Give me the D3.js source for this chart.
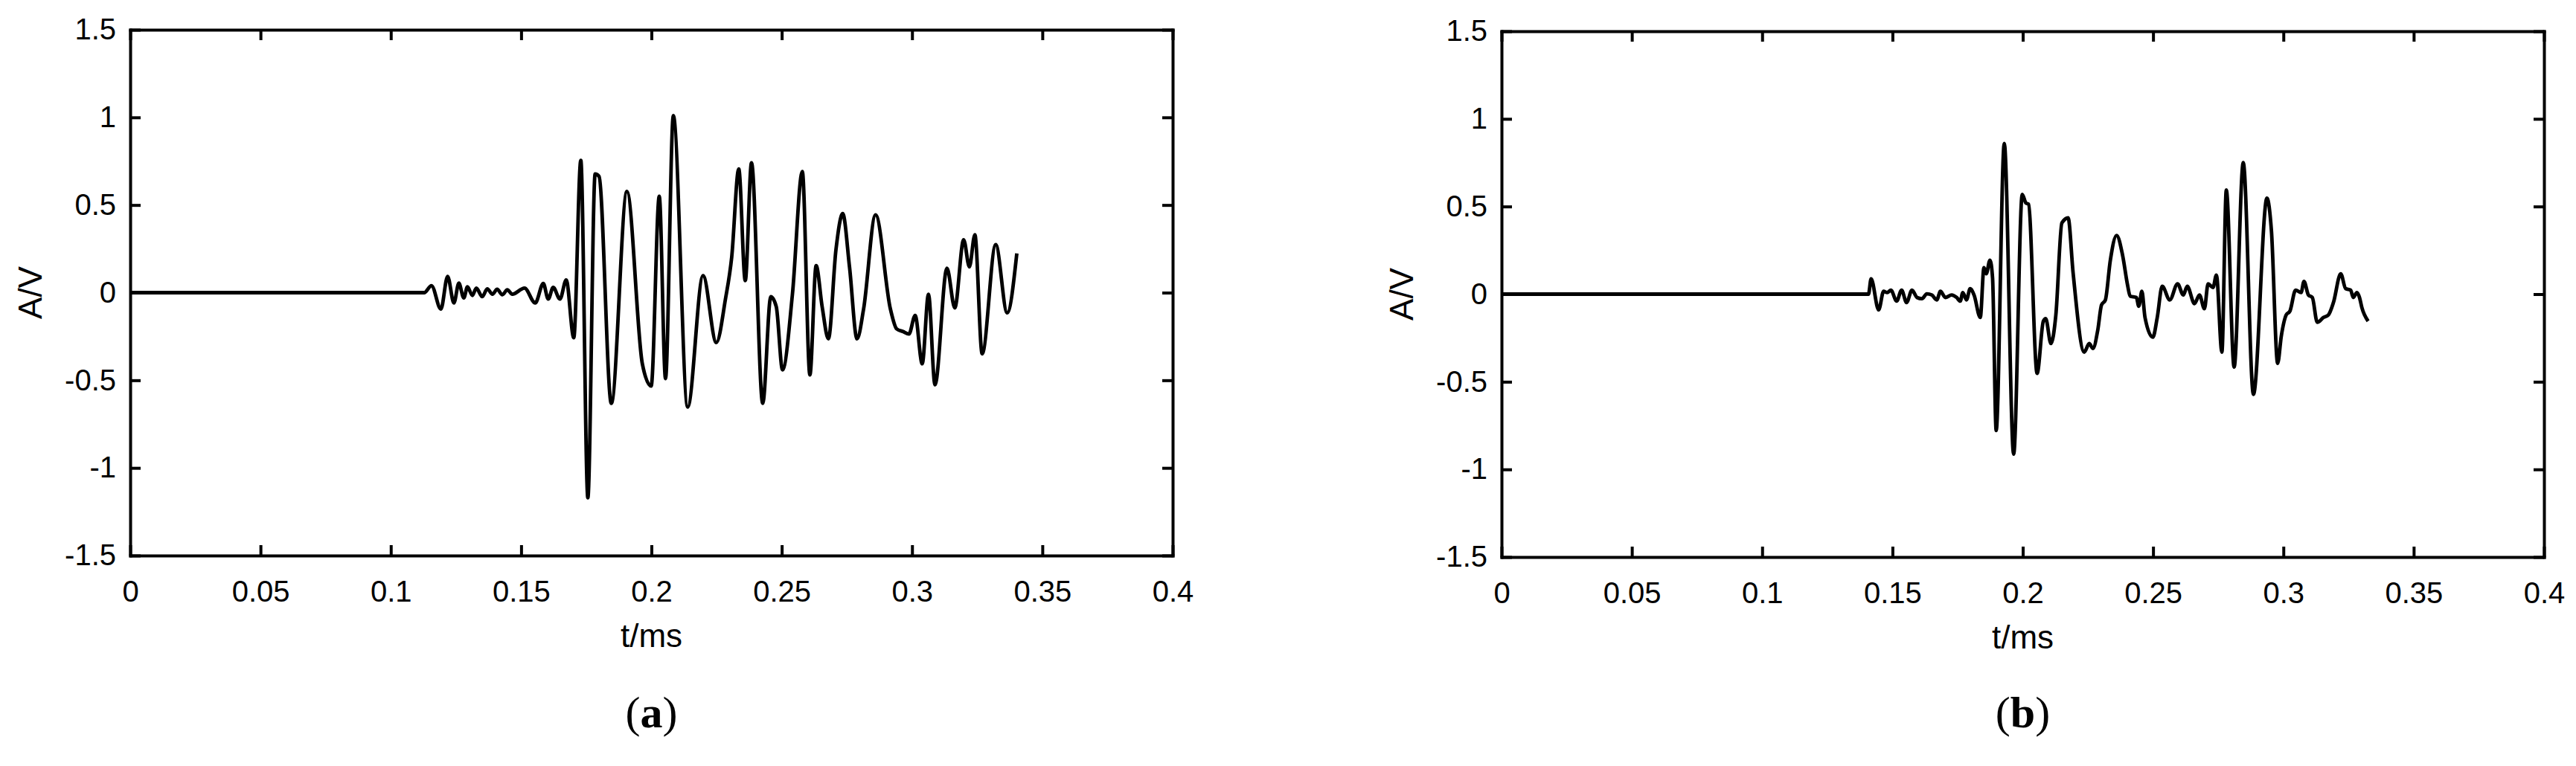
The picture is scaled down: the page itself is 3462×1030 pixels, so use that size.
<!DOCTYPE html>
<html><head><meta charset="utf-8">
<script src="https://cdn.jsdelivr.net/npm/d3@7"></script>
<style>body{margin:0;background:#fff}svg{display:block}</style>
</head><body><svg id="chart" width="3462" height="1030"></svg>
<script>
// ---- data ----
const xTicks = [0, 0.05, 0.1, 0.15, 0.2, 0.25, 0.3, 0.35, 0.4];
const yTicks = [-1.5, -1, -0.5, 0, 0.5, 1, 1.5];
const xLabel = "t/ms";
const yLabel = "A/V";
const panelLabels = ["a", "b"];

const tA = [0, 0.1128, 0.1156, 0.1192, 0.1218, 0.1242, 0.1261, 0.1280, 0.1294, 0.1313, 0.1328, 0.1351, 0.1370, 0.1390, 0.1408, 0.1428, 0.1447, 0.1466,
  0.1513, 0.1554, 0.1585, 0.1604, 0.1623, 0.1649, 0.1673, 0.1702, 0.1729, 0.1756, 0.1784, 0.1799, 0.1846, 0.1906, 0.1965, 0.1999, 0.2030, 0.2054, 0.2084, 0.2139, 0.2198,
  0.2249, 0.2284, 0.2308, 0.2335, 0.2360, 0.2384, 0.2427, 0.2458, 0.2479, 0.2503, 0.2541, 0.2579, 0.2608, 0.2632, 0.2655, 0.2679, 0.2708, 0.2734, 0.2760, 0.2789,
  0.2814, 0.2860, 0.2917, 0.2941, 0.2965, 0.2988, 0.3012, 0.3039, 0.3063, 0.3088, 0.3134, 0.3164, 0.3198, 0.3220, 0.3241, 0.3269, 0.3321, 0.3365, 0.3402];
const vA = [0, 0, 0.04, -0.094, 0.093, -0.059, 0.054, -0.03, 0.033, -0.016, 0.026, -0.023, 0.022, -0.009, 0.019, -0.012, 0.016, -0.009,
  0.026, -0.059, 0.052, -0.037, 0.03, -0.037, 0.073, -0.257, 0.755, -1.17, 0.677, 0.663, -0.632, 0.578, -0.405, -0.533, 0.55, -0.49, 1.01, -0.653, 0.097,
  -0.285, -0.037, 0.203, 0.706, 0.069, 0.741, -0.632, -0.023, -0.08, -0.441, -0.009, 0.691, -0.469, 0.154, -0.08, -0.264, 0.245, 0.451, 0.147, -0.264,
  -0.094, 0.444, -0.094, -0.207, -0.222, -0.236, -0.13, -0.406, -0.009, -0.526, 0.139, -0.087, 0.302, 0.147, 0.33, -0.349, 0.274, -0.115, 0.224];

const tB = [0, 0.1408, 0.1418, 0.1447, 0.1466, 0.1480, 0.1494, 0.1516, 0.1535, 0.1554, 0.1575, 0.1594, 0.1613, 0.1632, 0.1651, 0.1670, 0.1684, 0.1703, 0.1727, 0.1746,
  0.1760, 0.1770, 0.1784, 0.1798, 0.1813, 0.1837, 0.1851, 0.1860, 0.1874, 0.1884, 0.1898, 0.1929, 0.1965, 0.1998, 0.2012, 0.2022, 0.2055, 0.2079, 0.2088, 0.2108,
  0.2127, 0.2150, 0.2174, 0.2193, 0.2236, 0.2255, 0.2269, 0.2288, 0.2302, 0.2317, 0.2336,
  0.2360, 0.2383, 0.2402, 0.2412, 0.2436, 0.2445, 0.2457, 0.2469, 0.2499, 0.2516, 0.2535, 0.2564, 0.2594, 0.2616, 0.2631, 0.2659, 0.2678, 0.2697, 0.2711, 0.2730,
  0.2743, 0.2764, 0.2781, 0.2811, 0.2846, 0.2885, 0.2937, 0.2954, 0.2978, 0.2992, 0.3011, 0.3025, 0.3047, 0.3068, 0.3079, 0.3096, 0.3111, 0.3130, 0.3154, 0.3173,
  0.3192, 0.3220, 0.3239, 0.3258, 0.3268, 0.3282, 0.3292, 0.3301, 0.3325];
const vB = [0, 0, 0.087, -0.09, 0.016, 0.009, 0.023, -0.04, 0.023, -0.048, 0.023, -0.019, -0.026, 0.002, -0.005, -0.033, 0.016, -0.019, -0.005, -0.019,
  -0.04, 0.009, -0.033, 0.031, -0.005, -0.133, 0.151, 0.116, 0.194, 0.094, -0.778, 0.86, -0.913, 0.569, 0.52, 0.513, -0.452, -0.154, -0.14, -0.282,
  -0.118, 0.406, 0.435, 0.123, -0.331, -0.282, -0.31, -0.203, -0.062, -0.033, 0.194,
  0.335, 0.222, 0.052, -0.012, -0.019, -0.069, 0.016, -0.133, -0.246, -0.133, 0.045, -0.033, 0.059, -0.005, 0.045, -0.054, -0.005, -0.083, 0.059, 0.038,
  0.109, -0.331, 0.594, -0.416, 0.75, -0.572, 0.548, 0.364, -0.395, -0.239, -0.118, -0.097, 0.023, 0.009, 0.073, -0.005, -0.019, -0.161, -0.133, -0.118,
  -0.048, 0.116, 0.031, 0.023, -0.019, 0.009, -0.019, -0.076, -0.154];

const seriesT = [tA, tB];
const seriesV = [vA, vB];

// ---- layout ----
const W = 1401, H = 707;
const origins = [[175, 40], [2018, 42]];
const tickFont = "'Liberation Sans', Arial, sans-serif";
const svg = d3.select("#chart");
svg.append("rect").attr("width", 3462).attr("height", 1030).attr("fill", "#fff");

const x = d3.scaleLinear().domain([0, 0.4]).range([0, W]);
const y = d3.scaleLinear().domain([-1.5, 1.5]).range([H, 0]);
const fmt = d => String(d);

origins.forEach(([ox, oy], i) => {
  const g = svg.append("g").attr("transform", `translate(${ox},${oy})`);

  const line = d3.line()
    .x((d, k) => x(seriesT[i][k]))
    .y(d => y(d))
    .curve(d3.curveMonotoneX);
  g.append("path")
    .datum(seriesV[i])
    .attr("d", line)
    .attr("fill", "none")
    .attr("stroke", "#000")
    .attr("stroke-width", 4.8)
    .attr("stroke-linejoin", "round");

  const axes = [
    {ax: d3.axisBottom(x).tickValues(xTicks).tickFormat(fmt).tickPadding(34), tr: `translate(0,${H})`},
    {ax: d3.axisTop(x).tickValues(xTicks).tickFormat(""), tr: `translate(0,0)`},
    {ax: d3.axisLeft(y).tickValues(yTicks).tickFormat(fmt).tickPadding(19), tr: `translate(0,0)`},
    {ax: d3.axisRight(y).tickValues(yTicks).tickFormat(""), tr: `translate(${W},0)`}
  ];
  axes.forEach(a => {
    const ag = g.append("g").attr("transform", a.tr)
      .call(a.ax.tickSizeInner(-14).tickSizeOuter(0));
    ag.select(".domain").attr("stroke", "#000").attr("stroke-width", 4).attr("stroke-linecap", "square");
    ag.selectAll(".tick line").attr("stroke", "#000").attr("stroke-width", 4);
    ag.selectAll(".tick text").attr("font-family", tickFont).attr("font-size", 40).attr("fill", "#000");
  });

  g.append("text")
    .attr("x", W / 2).attr("y", H + 123)
    .attr("text-anchor", "middle")
    .attr("font-family", tickFont).attr("font-size", 44)
    .text(xLabel);

  g.append("text")
    .attr("transform", `translate(-135,${H / 2}) rotate(-90)`)
    .attr("text-anchor", "middle")
    .attr("dy", "0.36em")
    .attr("font-family", tickFont).attr("font-size", 44)
    .text(yLabel);

  const pl = g.append("text")
    .attr("x", W / 2).attr("y", 978 - oy)
    .attr("text-anchor", "middle")
    .attr("font-family", "'Liberation Serif', 'Times New Roman', serif")
    .attr("font-size", 60);
  pl.append("tspan").text("(");
  pl.append("tspan").attr("font-weight", "bold").text(panelLabels[i]);
  pl.append("tspan").text(")");
});
</script>
</body></html>
